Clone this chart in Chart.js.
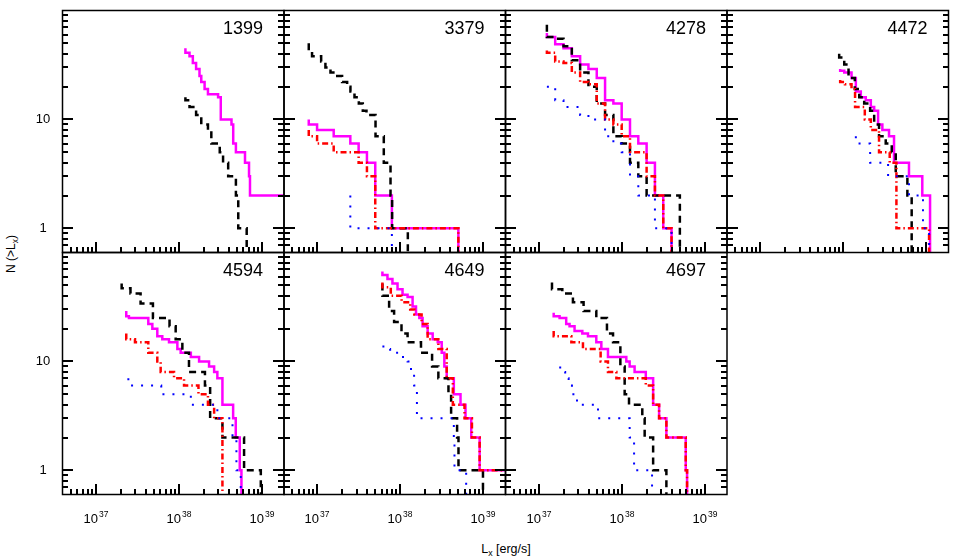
<!DOCTYPE html>
<html>
<head>
<meta charset="utf-8">
<title>N(&gt;Lx) panels</title>
<script src="https://cdn.jsdelivr.net/npm/chart.js@4.4.1/dist/chart.umd.min.js"></script>
<style>
  body { margin: 0; background: #fff; }
  #wrap { position: relative; width: 959px; height: 560px; overflow: hidden;
          font-family: "Liberation Sans", Arial, sans-serif; color: #000; }
  #wrap canvas { position: absolute; left: 0; top: 0; }
  .ytitle { position: absolute; left: 11px; top: 254px; font-size: 12px; white-space: nowrap;
            transform: translate(-50%, -50%) rotate(-90deg); }
  .xtitle { position: absolute; left: 506px; top: 549px; font-size: 12.5px; white-space: nowrap;
            transform: translate(-50%, -50%); }
  sub { font-size: 70%; vertical-align: -0.3em; line-height: 0; }
</style>
</head>
<body>
<div id="wrap">
  <div class="ytitle">N (&gt;L<sub>x</sub>)</div>
  <div class="xtitle">L<sub>x</sub> [erg/s]</div>
</div>
<script>
// DATA: cumulative counts, each pair is [Lx (erg/s), N]
// a pair means "level N up to this Lx", 0.1 stands for N = 0 (below the axis)
const panelNames = ["1399", "3379", "4278", "4472", "4594", "4649", "4697"];
const xTickLabels = [["10", "37"], ["10", "38"], ["10", "39"]];
const yTickLabels = ["1", "10"];
const xRange = [4e36, 1.85e39];
const yRange = [0.6, 100];

// NGC 1399
const n1399_solid = [[1.205e38,45],[1.35e38,41],[1.48e38,38],[1.62e38,33],[1.78e38,29],[1.87e38,25],
  [2.05e38,22],[2.25e38,19],[2.98e38,17],[3.21e38,16],[4.32e38,10],[4.53e38,9],[4.88e38,6],
  [6.28e38,5],[7.02e38,4],[7.21e38,3],[3e39,2]];
const n1399_dashed = [[1.205e38,16],[1.35e38,15],[1.62e38,13],[1.87e38,11],[2.25e38,9],[2.47e38,8],
  [3.12e38,6],[3.42e38,5],[3.94e38,4],[4.88e38,3],[5.21e38,2],[6.58e38,1],[6.58e38,0.1]];

// NGC 3379
const n3379_solid = [[7.943e36,10],[1.0e37,9],[1.585e37,8],[2.512e37,7],[3.162e37,6],[3.981e37,5],
  [5.012e37,4],[7.943e37,2],[5.012e38,1],[5.012e38,0.1]];
const n3379_dashed = [[7.943e36,50],[8.7e36,43],[1.12e37,38],[1.26e37,34],[1.45e37,30],[1.66e37,27],
  [2.0e37,25],[2.3e37,22],[2.52e37,20],[2.82e37,18],[3.18e37,16],[3.55e37,14],[3.93e37,12],
  [5.05e37,11],[6.35e37,7],[7.65e37,4],[8.0e37,2],[1.236e38,1],[1.236e38,0.1]];
const n3379_dashdot = [[7.943e36,8],[1.0e37,7],[1.585e37,6],[3.162e37,5],[3.981e37,4],[5.012e37,3],
  [5.012e38,1],[5.012e38,0.1]];
const n3379_dotted = [[2.512e37,2],[7.943e37,1],[7.943e37,0.1]];

// NGC 4278
const n4278_solid = [[1.259e37,62],[1.585e37,57],[1.995e37,49],[2.512e37,45],[3.162e37,38],[3.981e37,32],
  [5.012e37,29],[6.310e37,24],[7.943e37,15],[1.0e38,14],[1.259e38,10],[1.585e38,7],[1.995e38,6],
  [2.512e38,4],[3.162e38,2],[3.981e38,1],[3.981e38,0.1]];
const n4278_dashed = [[1.259e37,74],[1.585e37,57],[1.995e37,55],[2.512e37,47],[3.162e37,35],[3.981e37,27],
  [5.012e37,20],[6.310e37,14],[7.943e37,11],[1.0e38,7],[1.259e38,6],[1.585e38,4],[1.995e38,3],
  [5.012e38,2],[5.012e38,0.1]];
const n4278_dashdot = [[1.259e37,43],[1.585e37,41],[1.995e37,34],[2.512e37,33],[3.162e37,27],[3.981e37,22],
  [5.012e37,21],[6.310e37,14],[7.943e37,10],[1.0e38,9],[1.259e38,7],[1.585e38,5],[1.995e38,5],
  [2.512e38,3],[3.162e38,2],[3.981e38,1],[3.981e38,0.1]];
const n4278_dotted = [[1.259e37,20],[1.585e37,20],[1.995e37,15],[2.512e37,13],[3.162e37,13],[3.981e37,11],
  [5.012e37,10],[6.310e37,10],[7.943e37,7],[1.0e38,6],[1.259e38,5],[1.585e38,3],[1.995e38,2],
  [2.512e38,2],[3.162e38,1],[3.981e38,1],[3.981e38,0.1]];

// NGC 4472
const n4472_solid = [[9.2e37,29],[1.03e38,28],[1.26e38,27],[1.42e38,24],[1.63e38,18],[1.87e38,16],
  [2.15e38,15],[2.36e38,13],[2.63e38,12],[2.96e38,9],[3.56e38,8],[4.09e38,7],[6.19e38,4],
  [8.95e38,3],[1.11e39,2],[1.11e39,0.1]];
const n4472_dashed = [[8.95e37,40],[1.03e38,37],[1.16e38,32],[1.38e38,24],[1.56e38,19],[1.79e38,16],
  [2.11e38,14],[2.36e38,12],[2.7e38,9],[3.25e38,7],[3.84e38,6],[4.29e38,5],[5.92e38,3],
  [6.67e38,2],[6.67e38,0.1]];
const n4472_dashdot = [[9.2e37,23],[1.05e38,22],[1.26e38,21],[1.39e38,19],[1.82e38,13],[2.15e38,10],
  [2.7e38,8],[3.63e38,5],[4.37e38,4],[1.08e39,1],[1.08e39,0.1]];
const n4472_dotted = [[1.42e38,7],[2.11e38,6],[3.47e38,4],[6.19e38,3],[9.12e38,2],[1.08e39,1],[1.08e39,0.1]];

// NGC 4594
const n4594_solid = [[2.34e37,29],[2.52e37,26],[4.31e37,25],[4.82e37,22],[5.53e37,20],[6.35e37,17],
  [7.65e37,16],[9.64e37,15],[1.057e38,13],[1.40e38,12],[1.76e38,11],[2.32e38,10],[2.67e38,9],
  [2.92e38,8],[3.36e38,7],[4.52e38,4],[4.86e38,3],[5.43e38,2],[5.69e38,1],[5.69e38,0.1]];
const n4594_dashed = [[2.06e37,52],[2.63e37,47],[3.48e37,42],[4.9e37,34],[7.76e37,25],[9.2e37,21],
  [1.107e38,16],[1.33e38,12],[2.07e38,8],[2.39e38,6],[3.36e38,3],[6.12e38,2],[9.73e38,1],[9.73e38,0.1]];
const n4594_dashdot = [[2.34e37,18],[2.98e37,16],[4.31e37,15],[5.53e37,12],[6.07e37,10],[8.79e37,8],
  [1.16e38,7],[1.73e38,6],[2.25e38,5],[2.67e38,4],[3.36e38,3],[3.36e38,0.1]];
const n4594_dotted = [[2.48e37,7],[6.17e37,6],[1.40e38,5],[2.92e38,4],[4.44e38,3],[4.95e38,2],
  [5.58e38,1],[5.58e38,0.1]];

// NGC 4649
const n4649_solid = [[6.11e37,67],[7.03e37,62],[8.07e37,57],[9.29e37,52],[1.067e38,46],[1.227e38,41],
  [1.41e38,39],[1.55e38,32],[1.70e38,27],[1.86e38,25],[2.14e38,21],[2.46e38,18],[2.83e38,16],
  [3.16e38,15],[3.40e38,12],[3.63e38,9],[4.42e38,7],[5.32e38,5],[6.11e38,4],[7.16e38,3],
  [9.04e38,2],[3e39,1]];
const n4649_dashed = [[6.11e37,52],[7.36e37,40],[8.45e37,29],[1.037e38,23],[1.227e38,18],[1.78e38,15],
  [2.42e38,12],[2.88e38,9],[3.81e38,7],[4.10e38,5],[4.84e38,3],[5.03e38,2],[9.91e38,1],[9.91e38,0.1]];
const n4649_dashdot = [[6.11e37,53],[7.71e37,48],[1.04e38,40],[1.32e38,35],[1.48e38,30],[1.81e38,27],
  [2.14e38,22],[2.88e38,16],[3.63e38,13],[4.30e38,7],[5.94e38,4],[7.30e38,3],[9.04e38,2],[3e39,1]];
const n4649_dotted = [[6.28e37,14],[7.57e37,13],[1.037e38,12],[1.227e38,11],[1.35e38,10],[1.47e38,8],
  [1.59e38,6],[4.42e38,3],[4.5e38,2],[6.22e38,1],[6.22e38,0.1]];

// NGC 4697
const n4697_solid = [[1.52e37,28],[1.79e37,26],[2.15e37,25],[2.36e37,22],[2.71e37,21],[3.36e37,19],
  [3.93e37,18],[4.95e37,17],[5.69e37,15],[6.84e37,13],[1.137e38,11],[1.247e38,10],[1.43e38,9],
  [1.95e38,8],[2.39e38,7],[2.82e38,4],[3.45e38,3],[5.9e38,2],[6.12e38,1],[6.12e38,0.1]];
const n4697_dashed = [[1.45e37,53],[1.93e37,46],[2.59e37,42],[3.48e37,35],[4.95e37,29],[6.65e37,25],
  [7.87e37,18],[9.64e37,15],[1.086e38,9],[1.225e38,5],[1.77e38,4],[1.89e38,3],[2.39e38,2],
  [3.45e38,1],[3.45e38,0.1]];
const n4697_dashdot = [[1.52e37,19],[2.48e37,17],[3.42e37,15],[5.58e37,13],[6.84e37,10],[8.63e37,8],
  [1.95e38,7],[2.39e38,6],[2.82e38,4],[3.45e38,3],[5.9e38,2],[6.12e38,1],[6.12e38,0.1]];
const n4697_dotted = [[1.82e37,9],[2.09e37,8],[2.30e37,7],[2.52e37,6],[2.90e37,5],[5.19e37,4],
  [1.247e38,3],[1.41e38,2],[2.32e38,1],[2.32e38,0.1]];

// LAYOUT
const W = 959, H = 560;
const colEdges = [62.5, 284, 505.5, 727, 948.5];
const rowEdges = [10.5, 252.5, 494.5];

const panels = [
  { name: panelNames[0], col: 0, row: 0, lines: [n1399_solid, n1399_dashed, null, null] },
  { name: panelNames[1], col: 1, row: 0, lines: [n3379_solid, n3379_dashed, n3379_dashdot, n3379_dotted] },
  { name: panelNames[2], col: 2, row: 0, lines: [n4278_solid, n4278_dashed, n4278_dashdot, n4278_dotted] },
  { name: panelNames[3], col: 3, row: 0, lines: [n4472_solid, n4472_dashed, n4472_dashdot, n4472_dotted] },
  { name: panelNames[4], col: 0, row: 1, lines: [n4594_solid, n4594_dashed, n4594_dashdot, n4594_dotted] },
  { name: panelNames[5], col: 1, row: 1, lines: [n4649_solid, n4649_dashed, n4649_dashdot, n4649_dotted] },
  { name: panelNames[6], col: 2, row: 1, lines: [n4697_solid, n4697_dashed, n4697_dashdot, n4697_dotted] },
];

// line styles: solid, dashed, dash-dot, dotted
const lineStyles = [
  { borderColor: "#ff00ff", borderWidth: 2.5, borderDash: [] },
  { borderColor: "#000000", borderWidth: 2.5, borderDash: [7, 5] },
  { borderColor: "#ff0000", borderWidth: 2.5, borderDash: [6, 3, 1.5, 3] },
  { borderColor: "#0000ff", borderWidth: 2, borderDash: [2, 8] },
];

// 1..9 x 10^n tick values strictly inside the scale range
function decadeTicks(scale) {
  const out = [];
  const e0 = Math.floor(Math.log10(scale.min)), e1 = Math.ceil(Math.log10(scale.max));
  for (let e = e0; e <= e1; e++) {
    for (let s = 1; s <= 9; s++) {
      const v = s * Math.pow(10, e);
      if (v > scale.min * 1.001 && v < scale.max / 1.001) out.push({ value: v, major: s === 1 });
    }
  }
  return out;
}

// frame, inward ticks, panel name, tick labels
const panelDecor = {
  id: "panelDecor",
  afterDraw(chart, args, opts) {
    const { ctx, chartArea: a } = chart;
    const x = chart.scales.x, y = chart.scales.y;
    ctx.save();
    ctx.setLineDash([]);
    ctx.fillStyle = "#000";
    ctx.strokeStyle = "#000";

    ctx.lineWidth = 1.5;
    ctx.strokeRect(a.left, a.top, a.right - a.left, a.bottom - a.top);

    const xMajors = [], yMajors = [];
    const x0 = Math.floor(a.left), x1 = Math.ceil(a.right), yb = Math.ceil(a.bottom);
    ctx.lineWidth = 2;
    ctx.lineCap = "butt";
    ctx.beginPath();
    decadeTicks(x).forEach(t => {
      const px = Math.round(x.getPixelForValue(t.value));
      const len = t.major ? 11 : 6;
      if (t.major) xMajors.push(px);
      ctx.moveTo(px, yb);
      ctx.lineTo(px, yb - len);
    });
    decadeTicks(y).forEach(t => {
      const py = Math.round(y.getPixelForValue(t.value));
      const len = t.major ? 11 : 6;
      if (t.major) yMajors.push(py);
      ctx.moveTo(x0, py);
      ctx.lineTo(x0 + len, py);
      ctx.moveTo(x1, py);
      ctx.lineTo(x1 - len, py);
    });
    ctx.stroke();

    ctx.font = '18px "Liberation Sans", Arial, sans-serif';
    ctx.textAlign = "right";
    ctx.textBaseline = "alphabetic";
    ctx.fillText(opts.name, a.right - 21, a.top + 23);

    if (opts.yLabels) {
      ctx.font = '13px "Liberation Sans", Arial, sans-serif';
      ctx.textAlign = "center";
      ctx.textBaseline = "middle";
      yMajors.sort((p, q) => q - p).forEach((py, i) => {
        if (yTickLabels[i]) ctx.fillText(yTickLabels[i], 43, py);
      });
    }
    if (opts.xLabels) {
      ctx.textAlign = "left";
      ctx.textBaseline = "alphabetic";
      xMajors.sort((p, q) => p - q).forEach((px, i) => {
        const lab = xTickLabels[i];
        if (!lab) return;
        ctx.font = '13px "Liberation Sans", Arial, sans-serif';
        const w1 = ctx.measureText(lab[0]).width;
        ctx.font = '8.5px "Liberation Sans", Arial, sans-serif';
        const w2 = ctx.measureText(lab[1]).width;
        const lx = px - (w1 + 1 + w2) / 2;
        ctx.font = '13px "Liberation Sans", Arial, sans-serif';
        ctx.fillText(lab[0], lx, a.bottom + 28.5);
        ctx.font = '8.5px "Liberation Sans", Arial, sans-serif';
        ctx.fillText(lab[1], lx + w1 + 1, a.bottom + 22.5);
      });
    }
    ctx.restore();
  }
};

const wrap = document.getElementById("wrap");
panels.forEach(p => {
  const cv = document.createElement("canvas");
  cv.width = W;
  cv.height = H;
  wrap.appendChild(cv);

  // dotted on top, solid at the bottom
  const datasets = [];
  [3, 2, 1, 0].forEach(k => {
    if (!p.lines[k]) return;
    datasets.push(Object.assign({
      data: p.lines[k],
      stepped: "after",
      pointRadius: 0,
      fill: false,
      tension: 0,
      borderCapStyle: "butt",
      borderJoinStyle: "miter",
    }, lineStyles[k]));
  });

  new Chart(cv.getContext("2d"), {
    type: "line",
    data: { datasets },
    plugins: [panelDecor],
    options: {
      responsive: false,
      animation: false,
      events: [],
      layout: {
        padding: {
          left: colEdges[p.col],
          right: W - colEdges[p.col + 1],
          top: rowEdges[p.row],
          bottom: H - rowEdges[p.row + 1],
        }
      },
      scales: {
        x: { type: "logarithmic", min: xRange[0], max: xRange[1], display: false,
             ticks: { autoSkip: false, display: false } },
        y: { type: "logarithmic", min: yRange[0], max: yRange[1], display: false,
             ticks: { autoSkip: false, display: false } },
      },
      plugins: {
        legend: { display: false },
        tooltip: { enabled: false },
        panelDecor: {
          name: p.name,
          yLabels: p.col === 0,
          xLabels: p.row === 1,
        }
      }
    }
  });
});
</script>
</body>
</html>
